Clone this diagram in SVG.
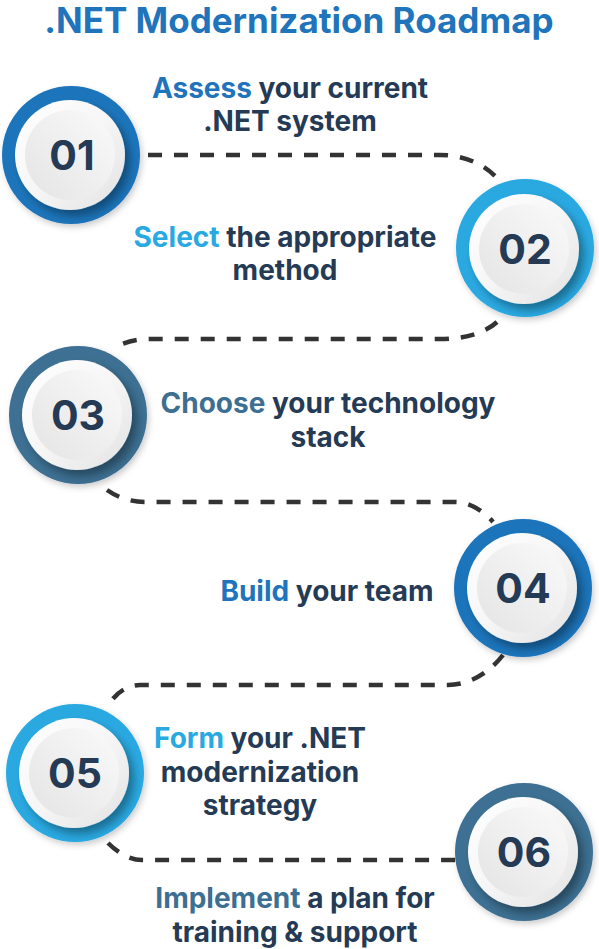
<svg xmlns="http://www.w3.org/2000/svg" width="599" height="949" viewBox="0 0 599 949">
<defs>
<style>
.t{font-family:Inter,"Open Sans","Liberation Sans",sans-serif;font-weight:700;fill:#253a54;}
.title{font-size:35px;fill:#1f74bb;}
.lbl{font-size:28px;text-anchor:middle;}
.num{font-size:41px;text-anchor:middle;}
.c1{fill:#1f74bb;}
.c2{fill:#29a9e1;}
.c3{fill:#3d6f92;}
.dash{fill:none;stroke:#333333;stroke-width:4.5;stroke-dasharray:14 12;}
</style>
<linearGradient id="gw" x1="0" y1="0" x2="1" y2="1">
<stop offset="0" stop-color="#ffffff"/>
<stop offset="0.5" stop-color="#f6f6f6"/>
<stop offset="1" stop-color="#e2e2e2"/>
</linearGradient>
<linearGradient id="gi" x1="0" y1="1" x2="1" y2="0">
<stop offset="0" stop-color="#e4e4e4"/>
<stop offset="1" stop-color="#fafafa"/>
</linearGradient>
<filter id="sh" x="-30%" y="-30%" width="160%" height="160%">
<feDropShadow dx="5" dy="6" stdDeviation="4" flood-color="#000" flood-opacity="0.35"/>
</filter>
<filter id="rs" x="-30%" y="-30%" width="160%" height="160%">
<feDropShadow dx="2" dy="3" stdDeviation="3" flood-color="#000" flood-opacity="0.2"/>
</filter>
</defs>
<rect width="599" height="949" fill="#ffffff"/>
<text class="t title" x="299" y="33" text-anchor="middle">.NET Modernization Roadmap</text>
<g id="connectors">
<path class="dash" d="M148,155 H440 C465,155 485,165 497,178"/>
<path class="dash" d="M497,322 C485,333 465,339 440,339 H150 C135,339 122,343 113,348"/>
<path class="dash" d="M107,490 C117,497 130,502 145,502 H455 C470,502 485,512 493,522"/>
<path class="dash" d="M503,655 C490,672 470,685 448,685 H140 C128,685 118,692 112,700"/>
<path class="dash" d="M108,843 C118,853 130,860 142,860 H456"/>
</g>
<g id="node1">
<circle class="c1" cx="71" cy="155" r="69" filter="url(#rs)"/>
<circle cx="70" cy="155" r="55" fill="url(#gw)" filter="url(#sh)"/>
<circle cx="70" cy="155" r="45" fill="url(#gi)"/>
<text class="t num" x="72" y="170">01</text>
<text class="t lbl" x="290" y="98"><tspan fill="#1f74bb">Assess</tspan> your current</text>
<text class="t lbl" x="290" y="131">.NET system</text>
</g>
<g id="node2">
<circle class="c2" cx="525" cy="248" r="69" filter="url(#rs)"/>
<circle cx="524" cy="249" r="55" fill="url(#gw)" filter="url(#sh)"/>
<circle cx="524" cy="249" r="45" fill="url(#gi)"/>
<text class="t num" x="525" y="264">02</text>
<text class="t lbl" x="285" y="247"><tspan fill="#29a9e1">Select</tspan> the appropriate</text>
<text class="t lbl" x="285" y="280">method</text>
</g>
<g id="node3">
<circle class="c3" cx="78" cy="415" r="69" filter="url(#rs)"/>
<circle cx="77" cy="415" r="55" fill="url(#gw)" filter="url(#sh)"/>
<circle cx="77" cy="415" r="45" fill="url(#gi)"/>
<text class="t num" x="78" y="430">03</text>
<text class="t lbl" x="328" y="413"><tspan fill="#3d6f92">Choose</tspan> your technology</text>
<text class="t lbl" x="328" y="447">stack</text>
</g>
<g id="node4">
<circle class="c1" cx="523" cy="588" r="69" filter="url(#rs)"/>
<circle cx="522" cy="588" r="55" fill="url(#gw)" filter="url(#sh)"/>
<circle cx="522" cy="588" r="45" fill="url(#gi)"/>
<text class="t num" x="523" y="603">04</text>
<text class="t lbl" x="327" y="601"><tspan fill="#1f74bb">Build</tspan> your team</text>
</g>
<g id="node5">
<circle class="c2" cx="75" cy="773" r="69" filter="url(#rs)"/>
<circle cx="74" cy="773" r="55" fill="url(#gw)" filter="url(#sh)"/>
<circle cx="74" cy="773" r="45" fill="url(#gi)"/>
<text class="t num" x="75" y="788">05</text>
<text class="t lbl" x="260" y="748"><tspan fill="#29a9e1">Form</tspan> your .NET</text>
<text class="t lbl" x="260" y="782">modernization</text>
<text class="t lbl" x="260" y="815">strategy</text>
</g>
<g id="node6">
<circle class="c3" cx="524" cy="852" r="69" filter="url(#rs)"/>
<circle cx="523" cy="852" r="55" fill="url(#gw)" filter="url(#sh)"/>
<circle cx="523" cy="852" r="45" fill="url(#gi)"/>
<text class="t num" x="524" y="867">06</text>
<text class="t lbl" x="295" y="908"><tspan fill="#3d6f92">Implement</tspan> a plan for</text>
<text class="t lbl" x="295" y="942">training &amp; support</text>
</g>
</svg>
